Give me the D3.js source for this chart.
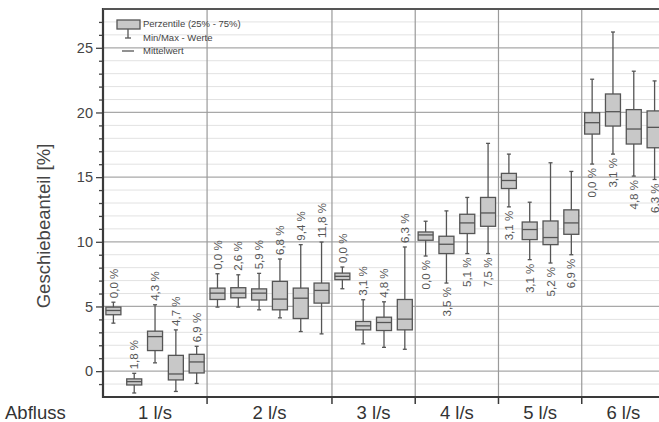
<!DOCTYPE html>
<html lang="de">
  <head>
    <meta charset="UTF-8" />
    <title>Geschiebeanteil</title>
    <script src="https://cdn.jsdelivr.net/npm/d3@7"></script>
    <style>
      body { margin: 0; background: #fff; }
      svg { display: block; font-family: Arial, 'Liberation Sans', sans-serif; }
    </style>
  </head>
  <body>
    <div id="container"></div>
    <script>
      // groups (Abfluss) and how many boxes each has
      const groups = ['1 l/s', '2 l/s', '3 l/s', '4 l/s', '5 l/s', '6 l/s']
      const groupSizes = [5, 6, 4, 4, 4, 4]
      const labelBelow = [false, false, false, true, true, true]

      // one entry per box, in order
      const pctLabels = ['0,0 %', '1,8 %', '4,3 %', '4,7 %', '6,9 %',
        '0,0 %', '2,6 %', '5,9 %', '6,8 %', '9,4 %', '11,8 %',
        '0,0 %', '3,1 %', '4,8 %', '6,3 %',
        '0,0 %', '3,5 %', '5,1 %', '7,5 %',
        '3,1 %', '3,1 %', '5,2 %', '6,9 %',
        '0,0 %', '3,1 %', '4,8 %', '6,3 %']
      const maxVals = [5.33, -0.17, 5.13, 3.19, 1.92,
        7.53, 7.45, 7.56, 8.67, 9.78, 9.98,
        8.05, 5.52, 5.36, 9.6,
        11.59, 12.39, 13.43, 17.61,
        16.78, 13.06, 16.11, 15.44,
        22.57, 26.22, 23.19, 22.44]
      const q3Vals = [4.95, -0.6, 3.09, 1.22, 1.3,
        6.42, 6.45, 6.36, 6.94, 6.42, 6.81,
        7.58, 3.84, 4.17, 5.54,
        10.76, 10.43, 12.13, 13.43,
        15.29, 11.53, 11.61, 12.47,
        19.98, 21.43, 20.22, 20.12]
      const meanVals = [4.69, -0.81, 2.67, -0.22, 0.71,
        6.03, 6.03, 6.03, 5.57, 5.64, 6.24,
        7.33, 3.5, 3.76, 4.02,
        10.53, 9.81, 11.46, 12.23,
        14.74, 10.95, 10.33, 11.46,
        19.21, 20.06, 18.72, 18.85]
      const q1Vals = [4.36, -1.07, 1.59, -0.68, -0.14,
        5.54, 5.67, 5.5, 4.74, 4.07, 5.26,
        7.07, 3.19, 3.14, 3.19,
        10.12, 9.09, 10.64, 11.2,
        14.12, 10.17, 9.78, 10.58,
        18.33, 18.95, 17.56, 17.27]
      const minVals = [3.71, -1.69, 0.64, -1.57, -0.95,
        4.95, 4.95, 4.74, 4.12, 3.06, 2.88,
        6.37, 2.11, 1.84, 1.69,
        8.9, 6.81, 9.09, 9.09,
        12.7, 8.62, 8.36, 9.0,
        16.01, 16.78, 15.08, 14.82]

      const majorTicks = [0, 5, 10, 15, 20, 25]

      const width = 659
      const height = 422
      const marginTop = 9
      const marginLeft = 103
      const plotRight = 665 // plot continues past the cropped edge
      const plotBottom = 397

      // build box records
      const boxes = []
      groupSizes.forEach((n, g) => {
        for (let k = 0; k < n; k++) {
          const i = boxes.length
          boxes.push({
            id: i, group: g, label: pctLabels[i],
            min: minVals[i], q1: q1Vals[i], mean: meanVals[i], q3: q3Vals[i], max: maxVals[i]
          })
        }
      })

      const x = d3.scaleBand()
        .domain(boxes.map(d => d.id))
        .range([marginLeft, plotRight])

      const y = d3.scaleLinear()
        .domain([-2, 28])
        .range([plotBottom, marginTop])

      const svg = d3.create('svg')
        .attr('width', width)
        .attr('height', height)
        .attr('viewBox', [0, 0, width, height])

      // group boundaries in pixels
      const bounds = []
      let acc = 0
      groupSizes.forEach(n => {
        const first = acc
        acc += n
        bounds.push([x(first), x(acc - 1) + x.bandwidth()])
      })

      // minor grid
      svg.append('g')
        .selectAll('line')
        .data(d3.range(-1, 28).filter(v => v % 5 !== 0))
        .join('line')
        .attr('x1', marginLeft).attr('x2', plotRight)
        .attr('y1', d => y(d)).attr('y2', d => y(d))
        .attr('stroke', '#e2e2e2')
        .attr('stroke-width', 1)

      // major grid
      svg.append('g')
        .selectAll('line')
        .data(majorTicks)
        .join('line')
        .attr('x1', marginLeft).attr('x2', plotRight)
        .attr('y1', d => y(d)).attr('y2', d => y(d))
        .attr('stroke', '#a8a8a8')
        .attr('stroke-width', 1.2)

      // group separators
      svg.append('g')
        .selectAll('line')
        .data(bounds.slice(1).map(b => b[0]))
        .join('line')
        .attr('x1', d => d).attr('x2', d => d)
        .attr('y1', marginTop).attr('y2', plotBottom)
        .attr('stroke', '#9a9a9a')
        .attr('stroke-width', 1.2)

      // boxes
      const boxW = 15
      const capW = 4
      const bx = svg.append('g')
        .selectAll('g')
        .data(boxes)
        .join('g')
        .attr('transform', d => `translate(${x(d.id) + x.bandwidth() / 2},0)`)

      bx.append('line')
        .attr('y1', d => y(d.max)).attr('y2', d => y(d.min))
        .attr('stroke', '#555').attr('stroke-width', 1.3)
      bx.append('line')
        .attr('x1', -capW / 2).attr('x2', capW / 2)
        .attr('y1', d => y(d.max)).attr('y2', d => y(d.max))
        .attr('stroke', '#555').attr('stroke-width', 1.3)
      bx.append('line')
        .attr('x1', -capW / 2).attr('x2', capW / 2)
        .attr('y1', d => y(d.min)).attr('y2', d => y(d.min))
        .attr('stroke', '#555').attr('stroke-width', 1.3)
      bx.append('rect')
        .attr('x', -boxW / 2).attr('width', boxW)
        .attr('y', d => y(d.q3))
        .attr('height', d => y(d.q1) - y(d.q3))
        .attr('fill', '#c8c8c8')
        .attr('stroke', '#555').attr('stroke-width', 1.3)
      bx.append('line')
        .attr('x1', -boxW / 2).attr('x2', boxW / 2)
        .attr('y1', d => y(d.mean)).attr('y2', d => y(d.mean))
        .attr('stroke', '#555').attr('stroke-width', 1.3)

      // percentage labels
      bx.append('text')
        .attr('transform', d => labelBelow[d.group]
          ? `translate(0,${y(d.min) + 4}) rotate(-90)`
          : `translate(0,${y(d.max) - 4}) rotate(-90)`)
        .attr('text-anchor', d => labelBelow[d.group] ? 'end' : 'start')
        .attr('dy', '0.36em')
        .attr('font-size', 11.5)
        .attr('fill', '#555')
        .text(d => d.label)

      // y axis
      const yAxis = svg.append('g')
        .attr('transform', `translate(${marginLeft},0)`)
        .call(d3.axisLeft(y).tickValues(majorTicks).tickSize(7).tickPadding(3))
      yAxis.select('.domain').remove()
      yAxis.selectAll('line').attr('stroke', '#444').attr('stroke-width', 1.3)
      yAxis.selectAll('text').attr('font-size', 14.5).attr('fill', '#444')
        .attr('font-family', 'Arial, Liberation Sans, sans-serif')

      const yMinor = svg.append('g')
        .attr('transform', `translate(${marginLeft},0)`)
        .call(d3.axisLeft(y).tickValues(d3.range(-1, 28).filter(v => v % 5 !== 0)).tickSize(4).tickFormat(''))
      yMinor.select('.domain').remove()
      yMinor.selectAll('line').attr('stroke', '#444').attr('stroke-width', 1.3)

      // frame: left, top, bottom
      svg.append('line')
        .attr('x1', marginLeft).attr('x2', marginLeft)
        .attr('y1', marginTop - 1).attr('y2', plotBottom + 1)
        .attr('stroke', '#3a3a3a').attr('stroke-width', 2.2)
      svg.append('line')
        .attr('x1', marginLeft).attr('x2', plotRight)
        .attr('y1', marginTop).attr('y2', marginTop)
        .attr('stroke', '#555').attr('stroke-width', 2.2)
      svg.append('line')
        .attr('x1', marginLeft).attr('x2', plotRight)
        .attr('y1', plotBottom).attr('y2', plotBottom)
        .attr('stroke', '#3a3a3a').attr('stroke-width', 2.2)

      // x ticks at group boundaries and group labels
      svg.append('g')
        .selectAll('line')
        .data(bounds.slice(1).map(b => b[0]))
        .join('line')
        .attr('x1', d => d).attr('x2', d => d)
        .attr('y1', plotBottom).attr('y2', plotBottom + 7)
        .attr('stroke', '#3a3a3a').attr('stroke-width', 1.5)

      svg.append('g')
        .selectAll('text')
        .data(groups)
        .join('text')
        .attr('x', (d, i) => (bounds[i][0] + bounds[i][1]) / 2)
        .attr('y', 419)
        .attr('text-anchor', 'middle')
        .attr('font-size', 18.5)
        .attr('fill', '#333')
        .text(d => d)

      svg.append('text')
        .attr('x', 5).attr('y', 419)
        .attr('font-size', 18.5)
        .attr('fill', '#333')
        .text('Abfluss')

      // y axis title
      svg.append('text')
        .attr('transform', `translate(50,${(marginTop + plotBottom) / 2 + 23}) rotate(-90)`)
        .attr('text-anchor', 'middle')
        .attr('font-size', 18.5)
        .attr('fill', '#444')
        .text('Geschiebeanteil [%]')

      // legend
      const lg = svg.append('g').attr('transform', 'translate(117,20)')
      lg.append('rect')
        .attr('width', 23).attr('height', 9)
        .attr('fill', '#c8c8c8').attr('stroke', '#555').attr('stroke-width', 1.3)
      lg.append('line').attr('x1', 11).attr('x2', 11).attr('y1', 9).attr('y2', 18)
        .attr('stroke', '#555').attr('stroke-width', 1.3)
      lg.append('line').attr('x1', 8).attr('x2', 14).attr('y1', 18).attr('y2', 18)
        .attr('stroke', '#555').attr('stroke-width', 1.3)
      lg.append('line').attr('x1', 5).attr('x2', 17).attr('y1', 31).attr('y2', 31)
        .attr('stroke', '#555').attr('stroke-width', 1.3)
      const legendText = ['Perzentile (25% - 75%)', 'Min/Max - Werte', 'Mittelwert']
      lg.selectAll('text.leg')
        .data(legendText)
        .join('text')
        .attr('class', 'leg')
        .attr('x', 26)
        .attr('y', (d, i) => 4 + i * 13.5)
        .attr('dy', '0.35em')
        .attr('font-size', 9.5)
        .attr('fill', '#444')
        .text(d => d)

      container.append(svg.node())
    </script>
  </body>
</html>
